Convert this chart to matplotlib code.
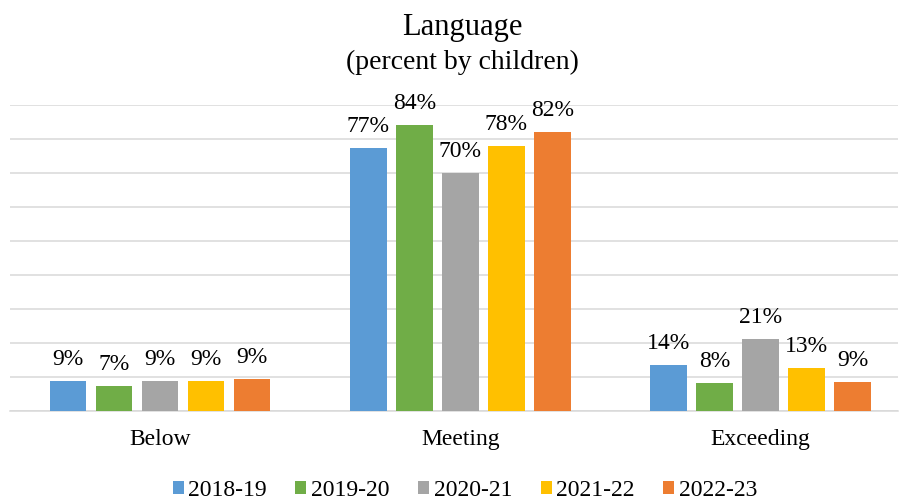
import numpy as np
import matplotlib.pyplot as plt

plt.rcParams['font.family'] = ['Liberation Serif', 'DejaVu Serif']

categories = ["Below", "Meeting", "Exceeding"]
years = ["2018-19", "2019-20", "2020-21", "2021-22", "2022-23"]
colors = ["#5B9BD5", "#70AD47", "#A5A5A5", "#FFC000", "#ED7D31"]

# bar heights (percent), labels as printed
values = {
    "2018-19": [8.9, 77.3, 13.6],
    "2019-20": [7.3, 84.1, 8.3],
    "2020-21": [8.8, 69.8, 21.3],
    "2021-22": [8.9, 77.9, 12.7],
    "2022-23": [9.3, 82.1, 8.5],
}
labels = {
    "2018-19": ["9%", "77%", "14%"],
    "2019-20": ["7%", "84%", "8%"],
    "2020-21": ["9%", "70%", "21%"],
    "2021-22": ["9%", "78%", "13%"],
    "2022-23": ["9%", "82%", "9%"],
}

fig = plt.figure(figsize=(9.02, 5.01), dpi=100)
ax = fig.add_axes([10 / 902, 1 - 411 / 501, 888 / 902, (411 - 104.7) / 501])

x = np.arange(len(categories))
step = 0.1533
width = 0.122
for k, (yr, col) in enumerate(zip(years, colors)):
    pos = x + (k - 2) * step
    bars = ax.bar(pos, values[yr], width=width, color=col, label=yr, zorder=3)
    for b, txt in zip(bars, labels[yr]):
        ax.annotate(txt, (b.get_x() + b.get_width() / 2, b.get_height()),
                    xytext=(0, 11.5), textcoords="offset points",
                    ha="center", va="baseline", fontsize=17)

ax.set_xlim(-0.5, 2.458)
ax.set_ylim(0, 90)
ax.set_yticks(np.arange(0, 91, 10))
ax.set_yticklabels([])
ax.tick_params(axis="y", length=0)
ax.grid(axis="y", color="#D9D9D9", linewidth=1.1, zorder=0)
ax.set_xticks(x)
ax.set_xticklabels(categories, fontsize=17)
ax.tick_params(axis="x", length=0, pad=13)
for s in ["top", "right", "left"]:
    ax.spines[s].set_visible(False)
ax.spines["bottom"].set_color("#D9D9D9")
ax.spines["bottom"].set_linewidth(1.1)

cx = 462 / 902
fig.text(cx, 1 - 27 / 501, "Language", ha="center", va="center", fontsize=22)
fig.text(cx, 1 - 62 / 501, "(percent by children)", ha="center", va="center", fontsize=20)

fig.legend(loc="center", bbox_to_anchor=(465 / 902, 1 - 490 / 501), ncol=5, frameon=False,
           fontsize=17, handlelength=0.47, handleheight=0.47, handletextpad=0.2,
           columnspacing=1.2)

fig.savefig("out.png", dpi=100)
